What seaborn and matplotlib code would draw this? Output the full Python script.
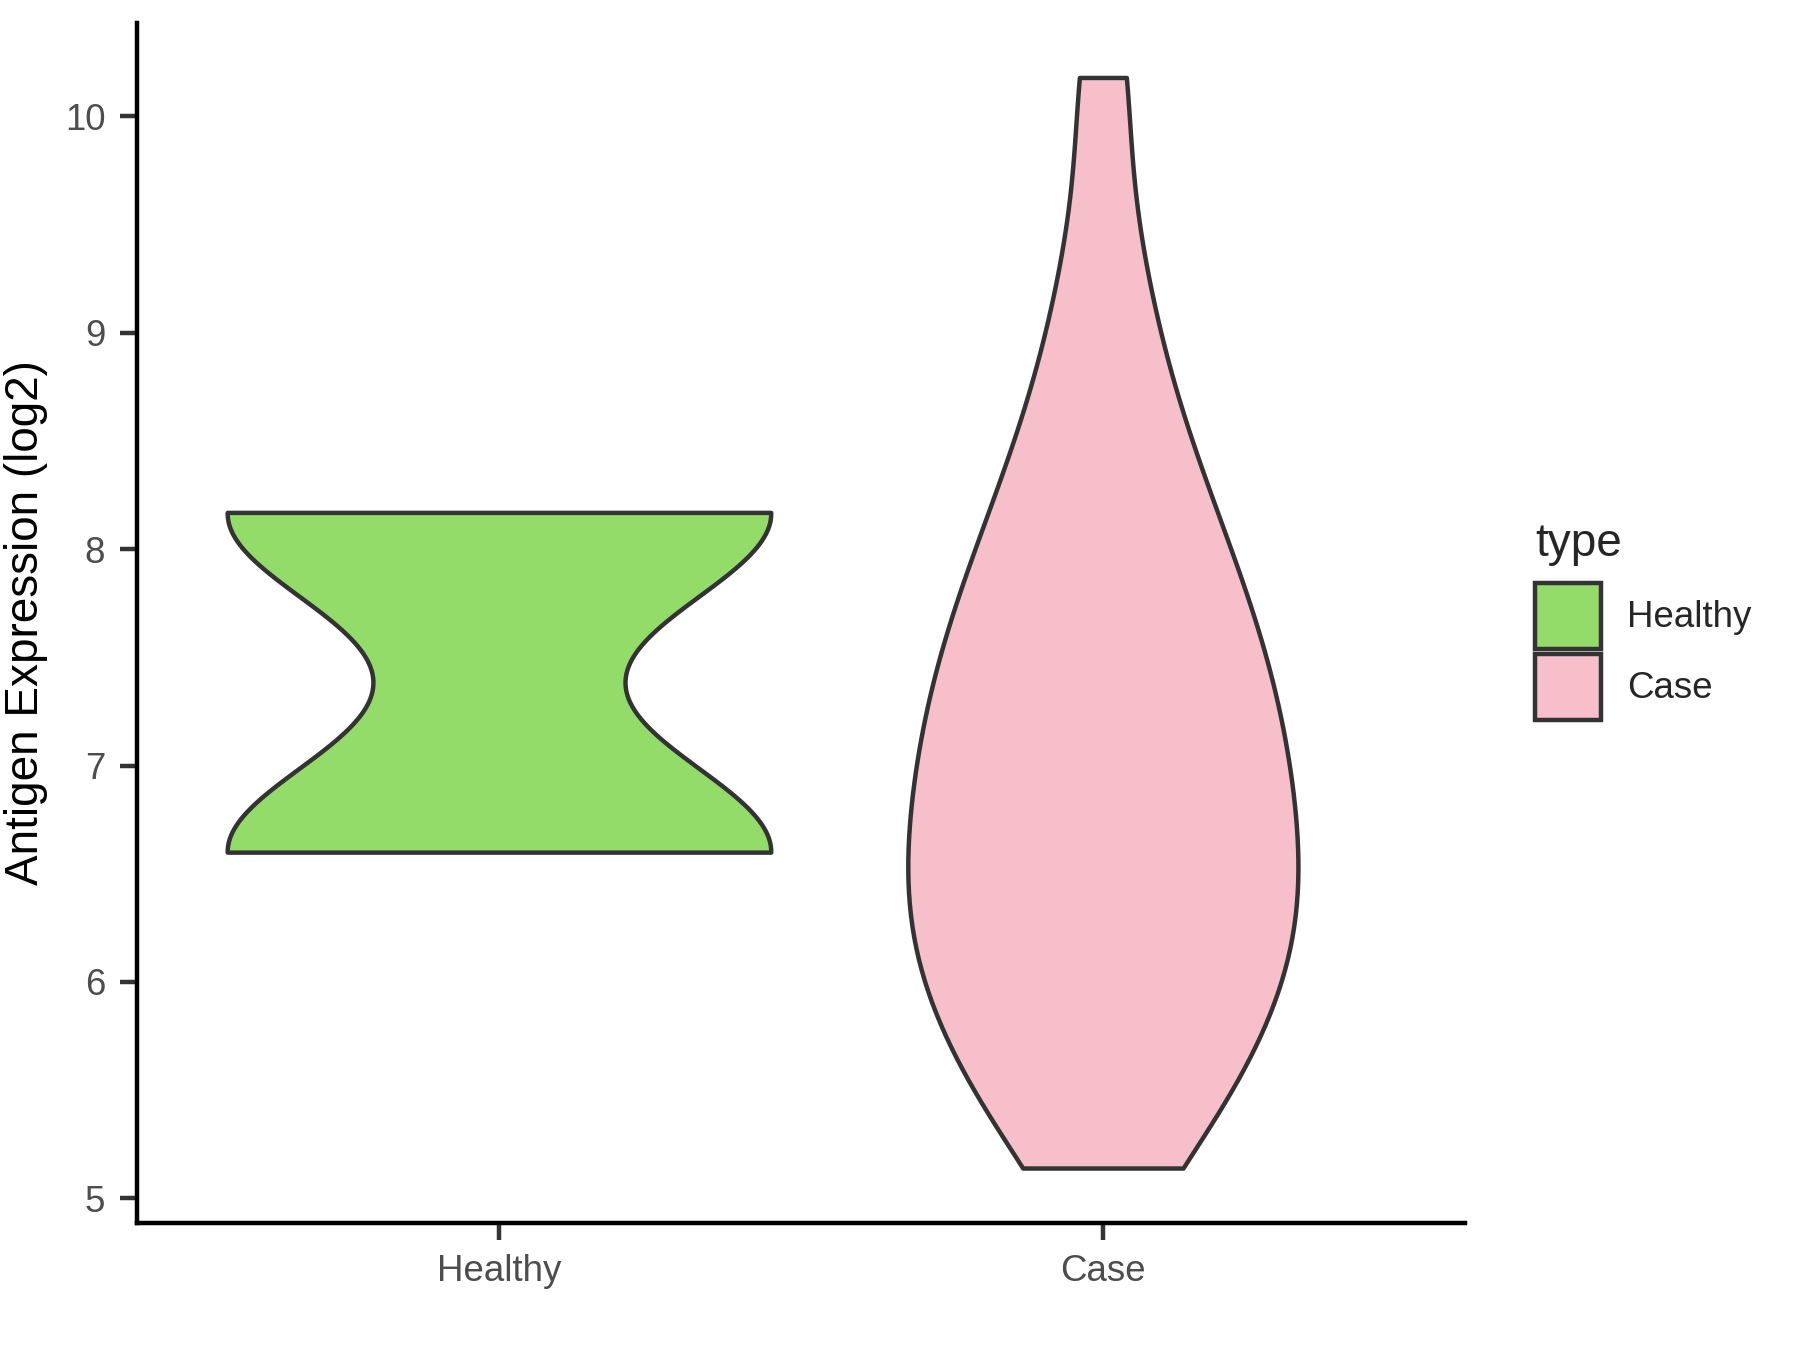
import numpy as np
import pandas as pd
import matplotlib
matplotlib.use("Agg")
import matplotlib.pyplot as plt
import seaborn as sns
from matplotlib.patches import Patch

sns.set_style("white")
plt.rcParams['font.family'] = ['Liberation Sans', 'DejaVu Sans']

# 数据
categories = ["Healthy", "Case"]
healthy_vals = [6.60, 8.17]
case_vals = [5.14, 5.30, 5.50, 5.63, 5.77, 5.89, 6.01, 6.12, 6.22, 6.33,
             6.40, 6.51, 6.64, 6.75, 6.85, 6.96, 7.07, 7.19, 7.31, 7.42,
             7.55, 7.69, 7.83, 7.97, 8.16, 8.36, 8.60, 8.93, 9.39, 10.18]
colors = {"Healthy": "#93DC6A", "Case": "#F7BFCA"}

df_h = pd.DataFrame({"type": "Healthy", "value": healthy_vals})
df_c = pd.DataFrame({"type": "Case", "value": case_vals})

fig = plt.figure(figsize=(6, 4.5), dpi=300)
ax = fig.add_axes([0.0759, 0.0944, 0.814 - 0.0759, 0.983 - 0.0944])

edge = "#333333"
lw = 1.07
sns.violinplot(data=df_h, x="type", y="value", order=categories, color=colors["Healthy"],
               inner=None, cut=0, density_norm="width", width=0.9, bw_method=0.414,
               linewidth=lw, linecolor=edge, saturation=1, ax=ax)
sns.violinplot(data=df_c, x="type", y="value", order=categories, color=colors["Case"],
               inner=None, cut=0, density_norm="width", width=0.646, bw_adjust=0.72,
               linewidth=lw, linecolor=edge, saturation=1, ax=ax)

ax.set_xlim(-0.6, 1.6)
ax.set_ylim(4.888, 10.432)
ax.set_yticks([5, 6, 7, 8, 9, 10])
ax.set_xlabel("")
ax.set_ylabel("Antigen Expression (log2)", fontsize=11, color="black")
ax.tick_params(axis="both", labelsize=8.8, labelcolor="#4D4D4D", color="#333333",
               width=1.07, length=4, direction="out", left=True, bottom=True)
for s in ["top", "right"]:
    ax.spines[s].set_visible(False)
for s in ["left", "bottom"]:
    ax.spines[s].set_color("black")
    ax.spines[s].set_linewidth(1.07)

# 图例
handles = [Patch(facecolor=colors[c], edgecolor=edge, linewidth=1.07, label=c) for c in categories]
leg = fig.legend(handles=handles, title="type", loc="upper left", bbox_to_anchor=(0.853, 0.613),
                 frameon=False, fontsize=8.8, title_fontsize=11, handlelength=1.8,
                 handleheight=2.37, labelspacing=0.15, handletextpad=0.7, borderaxespad=0,
                 borderpad=0)
leg._legend_box.align = "left"
leg._legend_box.sep = 4

fig.savefig("out.png", dpi=300)
